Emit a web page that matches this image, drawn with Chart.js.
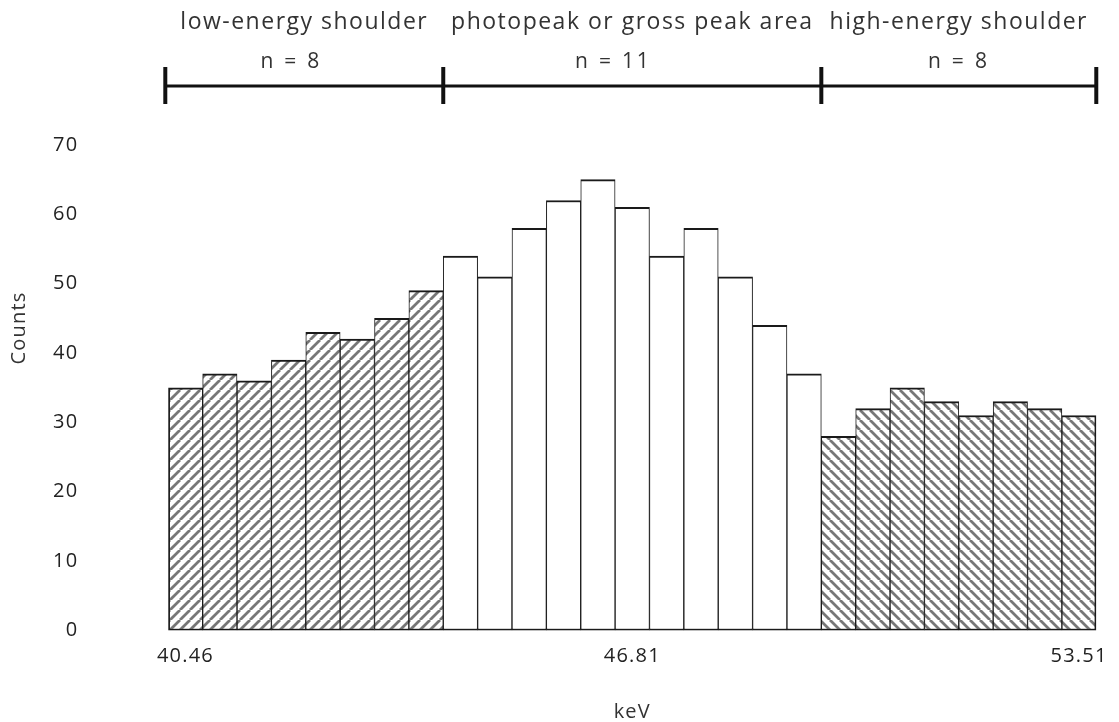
<!DOCTYPE html>
<html>
<head>
<meta charset="utf-8">
<title>Counts per keV bin</title>
<script src="https://cdn.jsdelivr.net/npm/chart.js@4.4.1/dist/chart.umd.min.js"></script>
<style>
  html, body { margin: 0; padding: 0; background: #fff; }
  #spectrum { display: block; }
</style>
</head>
<body>
<canvas id="spectrum" width="1119" height="722"></canvas>
<script>
// counts per energy bin, left to right
const counts = [35, 37, 36, 39, 43, 42, 45, 49,
                54, 51, 58, 62, 65, 61, 54, 58, 51, 44, 37,
                28, 32, 35, 33, 31, 33, 32, 31];
// only three bin energies get a label (keV)
const tickLabels = ['40.46', '', '', '', '', '', '', '', '', '', '', '', '',
                    '46.81', '', '', '', '', '', '', '', '', '', '', '', '', '53.51'];
const regionNames = ['low-energy shoulder', 'photopeak or gross peak area', 'high-energy shoulder'];
const regionSizes = [8, 11, 8];

const FONT = '"Open Sans", "DejaVu Sans", sans-serif';
const TEXT = '#333';

// which region a bin index falls in
function regionOf(i) {
    let end = 0;
    for (let r = 0; r < regionSizes.length; r++) {
        end += regionSizes[r];
        if (i < end) return r;
    }
    return regionSizes.length - 1;
}

// diagonal stripes, dir = 1 for "/" and -1 for "\"
function makeHatch(dir) {
    const s = 10;
    const c = document.createElement('canvas');
    c.width = s;
    c.height = s;
    const g = c.getContext('2d');
    g.fillStyle = '#fff';
    g.fillRect(0, 0, s, s);
    g.strokeStyle = '#777';
    g.lineWidth = 2.8;
    g.beginPath();
    for (let k = -1; k <= 1; k++) {
        if (dir > 0) {
            g.moveTo(k * s, s);
            g.lineTo(k * s + s, 0);
        } else {
            g.moveTo(k * s, 0);
            g.lineTo(k * s + s, s);
        }
    }
    g.stroke();
    return g.createPattern(c, 'repeat');
}

const hatchLow = makeHatch(1);
const hatchHigh = makeHatch(-1);

// slightly spaced lettering for all the chart text
const spacedText = {
    id: 'spacedText',
    beforeDraw(chart) {
        chart.ctx.letterSpacing = '1.2px';
    }
};

// bracket with region names above the bars, plus the rotated y label
const regionBracket = {
    id: 'regionBracket',
    afterDraw(chart) {
        const x = chart.scales.x;
        const ctx = chart.ctx;
        const half = (x.getPixelForValue(1) - x.getPixelForValue(0)) / 2;
        const edges = [x.getPixelForValue(0) - half];
        let idx = 0;
        regionSizes.forEach(n => {
            idx += n;
            edges.push(x.getPixelForValue(idx - 1) + half);
        });
        edges[0] -= 3;
        const lineY = 86;
        ctx.save();
        ctx.strokeStyle = '#111';
        ctx.lineWidth = 3;
        ctx.beginPath();
        ctx.moveTo(edges[0], lineY);
        ctx.lineTo(edges[edges.length - 1], lineY);
        ctx.stroke();
        ctx.lineWidth = 4;
        edges.forEach(e => {
            ctx.beginPath();
            ctx.moveTo(e, 67);
            ctx.lineTo(e, 104);
            ctx.stroke();
        });
        ctx.fillStyle = TEXT;
        ctx.textAlign = 'center';
        ctx.textBaseline = 'middle';
        const nShift = [-13, -19, 0];
        regionNames.forEach((name, r) => {
            const cx = (edges[r] + edges[r + 1]) / 2;
            ctx.letterSpacing = '1.5px';
            ctx.font = '23px ' + FONT;
            ctx.fillText(name, cx, 22);
            ctx.letterSpacing = '2.8px';
            ctx.font = '21px ' + FONT;
            ctx.fillText('n = ' + regionSizes[r], cx + nShift[r], 62);
        });
        // y axis label sits above the middle of the axis
        ctx.letterSpacing = '1.2px';
        ctx.font = '20px ' + FONT;
        ctx.translate(19, 328);
        ctx.rotate(-Math.PI / 2);
        ctx.fillText('Counts', 0, 0);
        ctx.restore();
    }
};

new Chart(document.getElementById('spectrum'), {
    type: 'bar',
    data: {
        labels: tickLabels,
        datasets: [{
            data: counts,
            backgroundColor: c => [hatchLow, '#fff', hatchHigh][regionOf(c.dataIndex)],
            borderColor: '#1a1a1a',
            borderWidth: c => ({
                top: 2,
                bottom: 2,
                left: c.dataIndex === 0 ? 2 : 1,
                right: c.dataIndex === counts.length - 1 ? 2 : 1
            }),
            borderSkipped: false,
            barPercentage: 1,
            categoryPercentage: 1
        }]
    },
    options: {
        responsive: false,
        animation: false,
        layout: { padding: { top: 145, right: 22, bottom: 0, left: 0 } },
        plugins: {
            legend: { display: false },
            tooltip: { enabled: false }
        },
        scales: {
            x: {
                grid: { display: false, drawTicks: false },
                border: { display: false },
                ticks: {
                    autoSkip: false,
                    maxRotation: 0,
                    padding: 14,
                    color: '#222',
                    font: { family: FONT, size: 20 }
                },
                title: {
                    display: true,
                    text: 'keV',
                    color: TEXT,
                    padding: { top: 0, bottom: -2 },
                    font: { family: FONT, size: 20 }
                },
                afterFit: s => { s.height = 91.5; }
            },
            y: {
                min: 0,
                max: 70,
                grid: { display: false, drawTicks: false },
                border: { display: false },
                ticks: {
                    stepSize: 10,
                    padding: 90,
                    color: '#222',
                    font: { family: FONT, size: 20 }
                },
                afterFit: s => {
                    s.width = 168.3;
                    // the wide label gap is horizontal only
                    s.paddingTop = 0;
                    s.paddingBottom = 0;
                }
            }
        }
    },
    plugins: [spacedText, regionBracket]
});
</script>
</body>
</html>
